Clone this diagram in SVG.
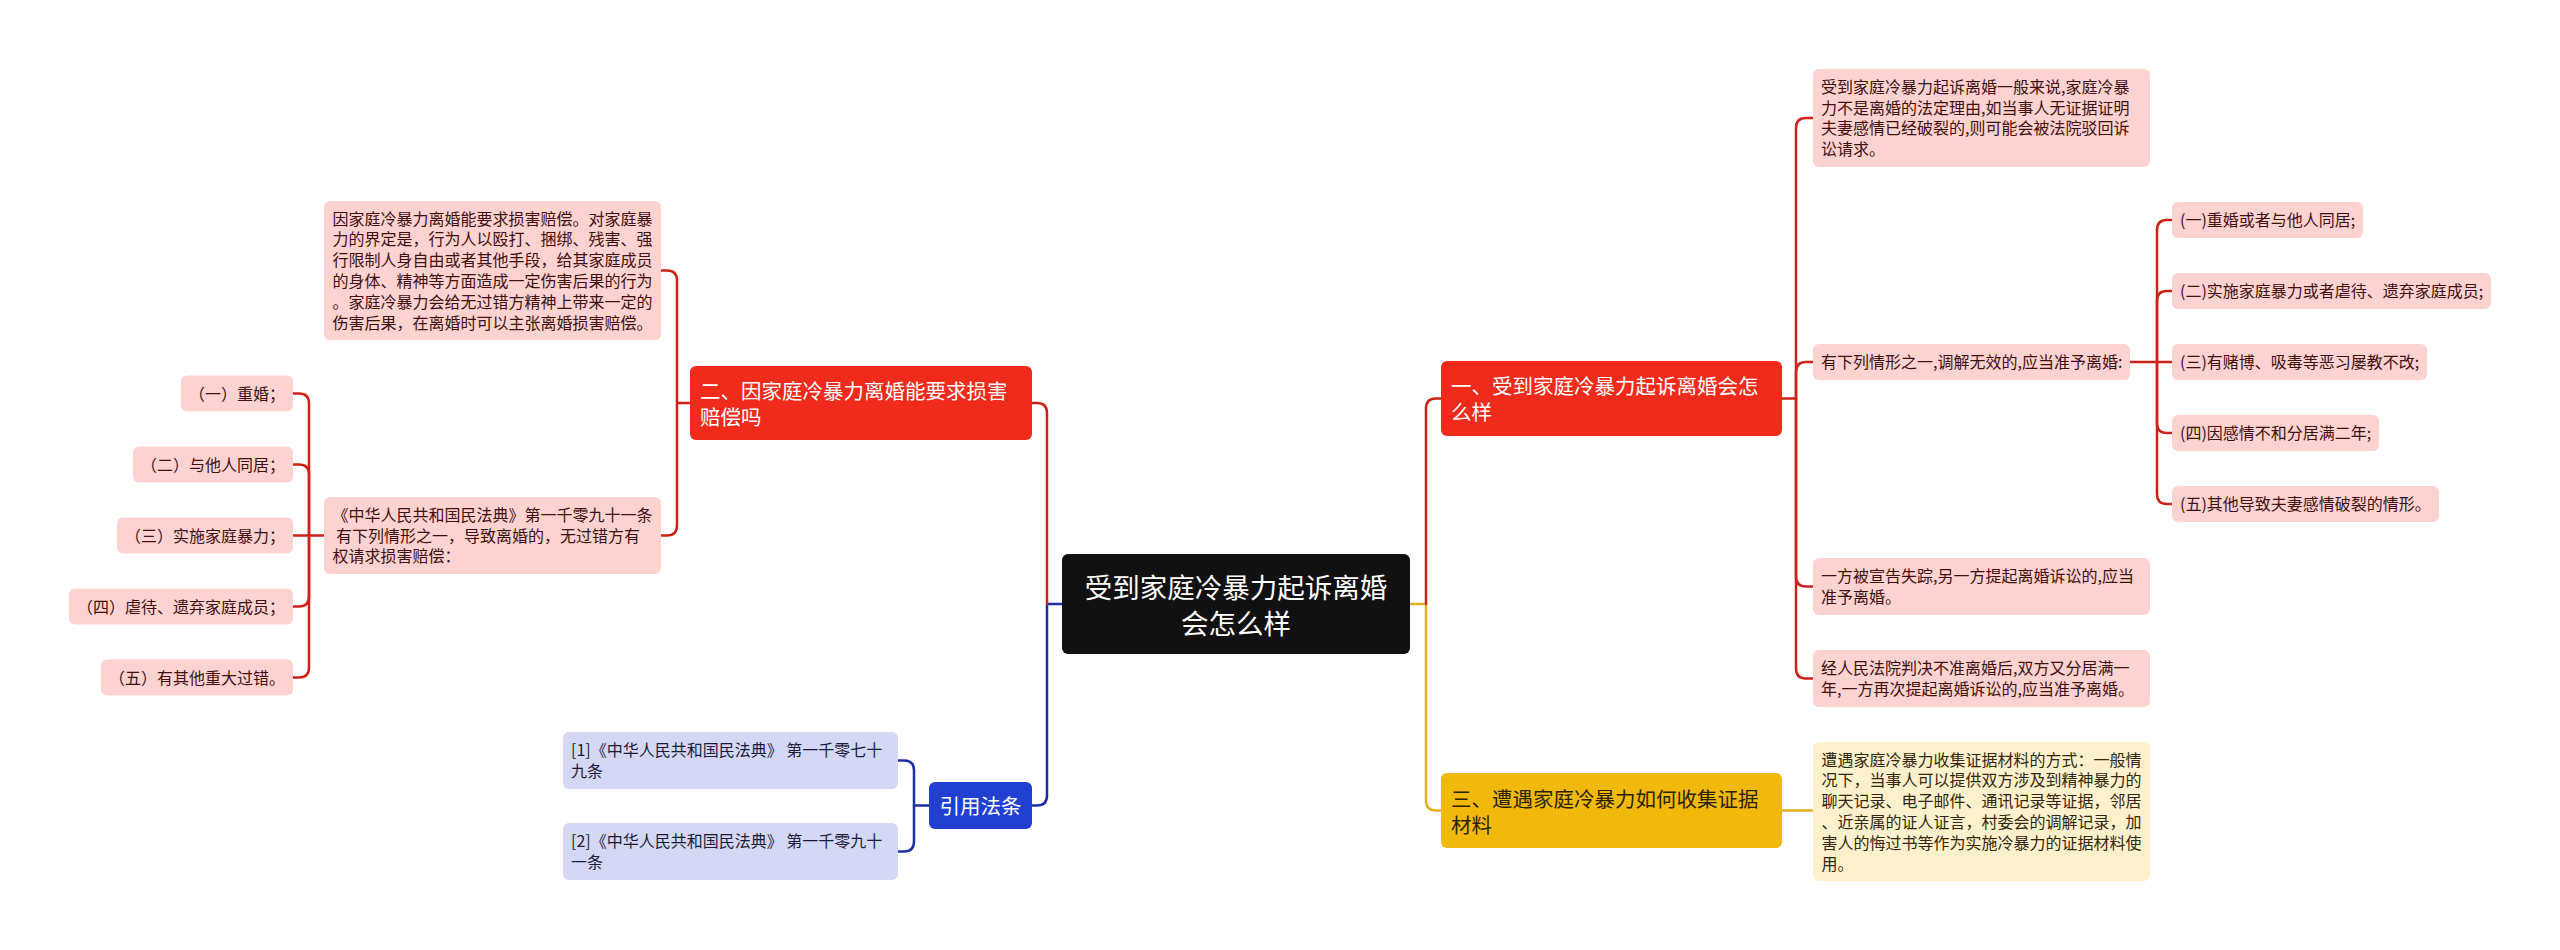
<svg xmlns="http://www.w3.org/2000/svg" width="2560" height="950" viewBox="0 0 2560 950">
<style>
text{font-family:"Noto Sans CJK SC","Noto Sans",sans-serif;}
.s{font-size:16px;}
.m{font-size:20.5px;}
.c{font-size:27.5px;fill:#ffffff;text-anchor:middle;}
.pk rect{fill:#FCD3D0;} .pk text{fill:#420f0f;}
.yl rect{fill:#FDF0CD;} .yl text{fill:#33270a;}
.bl rect{fill:#D4D8F5;} .bl text{fill:#1c1c3a;}
.rm rect{fill:#F02B1B;} .rm text{fill:#ffffff;}
.ym rect{fill:#F0B90B;} .ym text{fill:#2e2300;}
.bm rect{fill:#2140D2;} .bm text{fill:#ffffff;text-anchor:middle;}
.ctr rect{fill:#111111;}
#connectors path{fill:none;stroke-width:2.5;stroke-linecap:round;stroke-linejoin:round;}
.cr{stroke:#CD221A;}
.cy{stroke:#E5B11A;}
.cb{stroke:#1B2EA8;}
</style>
<rect x="0" y="0" width="2560" height="950" fill="#ffffff"/>

<g id="connectors">
  <path class="cb" d="M1062,604 H1047 V795.5 Q1047,805.5 1037,805.5 H1032"/>
  <path class="cr" d="M1047,604 V413 Q1047,403 1037,403 H1032"/>
  <path class="cy" d="M1410,604 H1426 V800.5 Q1426,810.5 1436,810.5 H1441"/>
  <path class="cr" d="M1426,604 V408.5 Q1426,398.5 1436,398.5 H1441"/>
  <path class="cr" d="M690,403 H677 V280.5 Q677,270.5 667,270.5 H661"/>
  <path class="cr" d="M677,403 V525.5 Q677,535.5 667,535.5 H661"/>
  <path class="cr" d="M324,535.5 H293"/>
  <path class="cr" d="M309,535.5 V403.5 Q309,393.5 299,393.5 H293"/>
  <path class="cr" d="M309,535.5 V474.5 Q309,464.5 299,464.5 H293"/>
  <path class="cr" d="M309,535.5 V596.5 Q309,606.5 299,606.5 H293"/>
  <path class="cr" d="M309,535.5 V667.5 Q309,677.5 299,677.5 H293"/>
  <path class="cr" d="M1782,398.5 H1796 V128 Q1796,118 1806,118 H1813"/>
  <path class="cr" d="M1796,398.5 V372 Q1796,362 1806,362 H1813"/>
  <path class="cr" d="M1796,398.5 V576.5 Q1796,586.5 1806,586.5 H1813"/>
  <path class="cr" d="M1796,398.5 V668.5 Q1796,678.5 1806,678.5 H1813"/>
  <path class="cr" d="M2130,362 H2172"/>
  <path class="cr" d="M2157,362 V230 Q2157,220 2167,220 H2172"/>
  <path class="cr" d="M2157,362 V301 Q2157,291 2167,291 H2172"/>
  <path class="cr" d="M2157,362 V423 Q2157,433 2167,433 H2172"/>
  <path class="cr" d="M2157,362 V494 Q2157,504 2167,504 H2172"/>
  <path class="cy" d="M1782,810.5 H1813"/>
  <path class="cb" d="M929,805.5 H914 V770.5 Q914,760.5 904,760.5 H898"/>
  <path class="cb" d="M914,805.5 V841.5 Q914,851.5 904,851.5 H898"/>
</g>

<g id="center" class="ctr">
  <rect x="1062" y="554" width="348" height="100" rx="6"/>
  <text class="c" x="1236" y="597.5">受到家庭冷暴力起诉离婚</text>
  <text class="c" x="1236" y="633.5">会怎么样</text>
</g>

<g id="main-left-red" class="rm">
  <rect x="690" y="366" width="342" height="74" rx="6"/>
  <text class="m" x="700" y="399">二、因家庭冷暴力离婚能要求损害</text>
  <text class="m" x="700" y="425">赔偿吗</text>
</g>

<g id="left-text-1" class="pk">
  <rect x="324" y="201" width="337" height="139" rx="6"/>
  <text class="s" x="332.5" y="224.5">因家庭冷暴力离婚能要求损害赔偿。对家庭暴</text>
  <text class="s" x="332.5" y="245.3">力的界定是，行为人以殴打、捆绑、残害、强</text>
  <text class="s" x="332.5" y="266.1">行限制人身自由或者其他手段，给其家庭成员</text>
  <text class="s" x="332.5" y="286.9">的身体、精神等方面造成一定伤害后果的行为</text>
  <text class="s" x="332.5" y="307.7">。家庭冷暴力会给无过错方精神上带来一定的</text>
  <text class="s" x="332.5" y="328.5">伤害后果，在离婚时可以主张离婚损害赔偿。</text>
</g>

<g id="left-text-2" class="pk">
  <rect x="324" y="497" width="337" height="77" rx="6"/>
  <text class="s" x="332.5" y="520.7">《中华人民共和国民法典》第一千零九十一条</text>
  <text class="s" x="332.5" y="541.5" xml:space="preserve"> 有下列情形之一，导致离婚的，无过错方有</text>
  <text class="s" x="332.5" y="562.3">权请求损害赔偿：</text>
</g>

<g id="left-item-1" class="pk">
  <rect x="181" y="375.5" width="112" height="36" rx="6"/>
  <text class="s" x="189" y="399.5">（一）重婚；</text>
</g>
<g id="left-item-2" class="pk">
  <rect x="133" y="446.5" width="160" height="36" rx="6"/>
  <text class="s" x="141" y="470.5">（二）与他人同居；</text>
</g>
<g id="left-item-3" class="pk">
  <rect x="117" y="517.5" width="176" height="36" rx="6"/>
  <text class="s" x="125" y="541.5">（三）实施家庭暴力；</text>
</g>
<g id="left-item-4" class="pk">
  <rect x="69" y="588.5" width="224" height="36" rx="6"/>
  <text class="s" x="77" y="612.5">（四）虐待、遗弃家庭成员；</text>
</g>
<g id="left-item-5" class="pk">
  <rect x="101" y="659.5" width="192" height="36" rx="6"/>
  <text class="s" x="109" y="683.5">（五）有其他重大过错。</text>
</g>

<g id="main-right-red" class="rm">
  <rect x="1441" y="361" width="341" height="75" rx="6"/>
  <text class="m" x="1451" y="394">一、受到家庭冷暴力起诉离婚会怎</text>
  <text class="m" x="1451" y="420">么样</text>
</g>

<g id="right-text-1" class="pk">
  <rect x="1813" y="69" width="337" height="98" rx="6"/>
  <text class="s" x="1821" y="92.8">受到家庭冷暴力起诉离婚一般来说,家庭冷暴</text>
  <text class="s" x="1821" y="113.6">力不是离婚的法定理由,如当事人无证据证明</text>
  <text class="s" x="1821" y="134.4">夫妻感情已经破裂的,则可能会被法院驳回诉</text>
  <text class="s" x="1821" y="155.2">讼请求。</text>
</g>

<g id="right-text-2" class="pk">
  <rect x="1813" y="344" width="317" height="36" rx="6"/>
  <text class="s" x="1821" y="368">有下列情形之一,调解无效的,应当准予离婚:</text>
</g>

<g id="right-text-3" class="pk">
  <rect x="1813" y="558" width="337" height="57" rx="6"/>
  <text class="s" x="1821" y="582.1">一方被宣告失踪,另一方提起离婚诉讼的,应当</text>
  <text class="s" x="1821" y="602.9">准予离婚。</text>
</g>

<g id="right-text-4" class="pk">
  <rect x="1813" y="650" width="337" height="57" rx="6"/>
  <text class="s" x="1821" y="674.1">经人民法院判决不准离婚后,双方又分居满一</text>
  <text class="s" x="1821" y="694.9">年,一方再次提起离婚诉讼的,应当准予离婚。</text>
</g>

<g id="right-item-1" class="pk">
  <rect x="2172" y="202" width="191" height="36" rx="6"/>
  <text class="s" x="2180" y="226">(一)重婚或者与他人同居;</text>
</g>
<g id="right-item-2" class="pk">
  <rect x="2172" y="273" width="319" height="36" rx="6"/>
  <text class="s" x="2180" y="297">(二)实施家庭暴力或者虐待、遗弃家庭成员;</text>
</g>
<g id="right-item-3" class="pk">
  <rect x="2172" y="344" width="255" height="36" rx="6"/>
  <text class="s" x="2180" y="368">(三)有赌博、吸毒等恶习屡教不改;</text>
</g>
<g id="right-item-4" class="pk">
  <rect x="2172" y="415" width="207" height="36" rx="6"/>
  <text class="s" x="2180" y="439">(四)因感情不和分居满二年;</text>
</g>
<g id="right-item-5" class="pk">
  <rect x="2172" y="486" width="267" height="36" rx="6"/>
  <text class="s" x="2180" y="510">(五)其他导致夫妻感情破裂的情形。</text>
</g>

<g id="main-right-yellow" class="ym">
  <rect x="1441" y="773" width="341" height="75" rx="6"/>
  <text class="m" x="1451" y="807">三、遭遇家庭冷暴力如何收集证据</text>
  <text class="m" x="1451" y="833">材料</text>
</g>

<g id="yellow-text" class="yl">
  <rect x="1813" y="742" width="337" height="139" rx="6"/>
  <text class="s" x="1821.5" y="765.5">遭遇家庭冷暴力收集证据材料的方式：一般情</text>
  <text class="s" x="1821.5" y="786.3">况下，当事人可以提供双方涉及到精神暴力的</text>
  <text class="s" x="1821.5" y="807.1">聊天记录、电子邮件、通讯记录等证据，邻居</text>
  <text class="s" x="1821.5" y="827.9">、近亲属的证人证言，村委会的调解记录，加</text>
  <text class="s" x="1821.5" y="848.7">害人的悔过书等作为实施冷暴力的证据材料使</text>
  <text class="s" x="1821.5" y="869.5">用。</text>
</g>

<g id="main-blue" class="bm">
  <rect x="929" y="782" width="103" height="47" rx="6"/>
  <text class="m" x="980.5" y="813.5">引用法条</text>
</g>

<g id="blue-ref-1" class="bl">
  <rect x="563" y="732" width="335" height="57" rx="6"/>
  <text class="s" x="571" y="756.1">[1]《中华人民共和国民法典》 第一千零七十</text>
  <text class="s" x="571" y="776.9">九条</text>
</g>
<g id="blue-ref-2" class="bl">
  <rect x="563" y="823" width="335" height="57" rx="6"/>
  <text class="s" x="571" y="847.1">[2]《中华人民共和国民法典》 第一千零九十</text>
  <text class="s" x="571" y="867.9">一条</text>
</g>
</svg>
